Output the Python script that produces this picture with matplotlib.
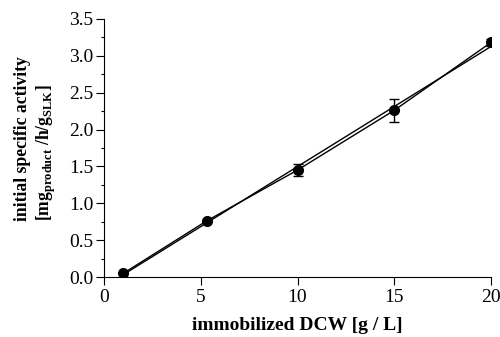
import numpy as np
import matplotlib
matplotlib.use("Agg")
import matplotlib.pyplot as plt
from matplotlib.ticker import MultipleLocator

# Daten
dcw = [1, 5.3, 10, 15, 20]
activity = [0.05, 0.76, 1.45, 2.26, 3.18]
activity_err = [0.0, 0.0, 0.08, 0.16, 0.05]

plt.rcParams["font.family"] = "Liberation Serif"
plt.rcParams["mathtext.fontset"] = "custom"
plt.rcParams["mathtext.rm"] = "Liberation Serif:bold"
plt.rcParams["mathtext.bf"] = "Liberation Serif:bold"

fig = plt.figure(figsize=(5, 3.37), dpi=100)
ax = fig.add_axes([0.208, 0.178, 0.774, 0.766])

# lineare Regression
slope, intercept = np.polyfit(dcw, activity, 1)
fit_x = np.array([dcw[0], dcw[-1]])
ax.plot(fit_x, slope * fit_x + intercept, color="black", lw=1.0)

ax.errorbar(dcw, activity, yerr=activity_err, fmt="o-", color="black",
            ms=7, lw=1.0, capsize=3.5, elinewidth=1.0, capthick=1.0)

ax.set_xlim(0, 20)
ax.set_ylim(0, 3.5)
ax.xaxis.set_major_locator(MultipleLocator(5))
ax.yaxis.set_major_locator(MultipleLocator(0.5))
ax.yaxis.set_minor_locator(MultipleLocator(0.25))
ax.yaxis.set_major_formatter(plt.FormatStrFormatter("%.1f"))
ax.tick_params(axis="both", labelsize=14, direction="out", length=6, width=0.8)
ax.tick_params(axis="y", pad=1.5)
ax.tick_params(axis="x", pad=2.5)
ax.tick_params(axis="y", which="minor", length=2.5, width=0.8)

for side in ["top", "right"]:
    ax.spines[side].set_visible(False)

ax.set_xlabel("immobilized DCW [g / L]", fontsize=14, fontweight="bold", labelpad=8)
ax.set_ylabel("initial specific activity\n[mg$_{\\mathrm{product}}$ /h/g$_{\\mathrm{SLK}}$]",
              fontsize=12.7, fontweight="bold", linespacing=1.25,
              multialignment="left")
ax.yaxis.set_label_coords(-0.12, 0.537)

fig.savefig("out.png", dpi=100)
